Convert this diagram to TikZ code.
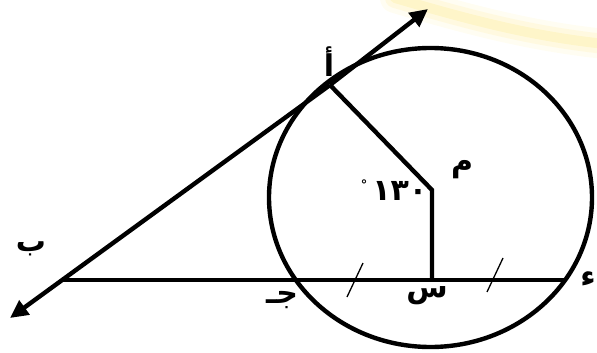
\documentclass[tikz,border=0pt]{standalone}
\usepackage{fontspec}
\newfontfamily\arabicfont[Script=Arabic]{DejaVu Sans}
\TeXXeTstate=1
\usetikzlibrary{arrows.meta}
\begin{document}
\begin{tikzpicture}[x=1pt,y=-1pt,
  geo/.style={line width=4.4pt},
  tick/.style={line width=1.3pt},
  arr/.style={geo,-{Triangle[length=18pt,width=17pt]}},
  lbl/.style={font=\arabicfont\bfseries\fontsize{30}{30}\selectfont,inner sep=0pt}]
\useasboundingbox (0,0) rectangle (597,353);
% faint yellow glow
\draw[yellow!70!orange,line width=30pt,line cap=round,opacity=0.05]
  (395,-2) .. controls (470,20) and (530,36) .. (605,44);
\draw[yellow!70!orange,line width=20pt,line cap=round,opacity=0.08]
  (395,-2) .. controls (470,20) and (530,36) .. (605,44);
\draw[yellow!70!orange,line width=10pt,line cap=round,opacity=0.10]
  (395,-2) .. controls (470,20) and (530,36) .. (605,44);
% points
\coordinate (B) at (62,280);
\coordinate (A) at (330,85);
\coordinate (M) at (432,190);
\coordinate (S) at (432,280);
\coordinate (D) at (566,280);
\coordinate (T1) at (428,9);
\coordinate (T2) at (10,318);
% circle
\draw[geo] (430.5,197.5) ellipse [x radius=161.5, y radius=149.5];
% lines
\draw[arr] (A) -- (T1);
\draw[arr] (A) -- (T2);
\draw[geo] (B) -- (D);
\draw[geo] (A) -- (M) -- (S);
% ticks
\draw[tick] (347,297) -- (363,263);
\draw[tick] (487,292) -- (503,258);
% labels
\node[lbl] (la) at (329,62) {\beginR أ\endR};
\node[lbl] (lb) at (31,249) {\beginR ب\endR};
\node[lbl] (lj) at (282,300) {\beginR جـ\endR};
\node[lbl] (ls) at (427,296) {\beginR س\endR};
\node[lbl] (ld) at (588,279) {\beginR ء\endR};
\node[lbl] (lm) at (462,170) {\beginR م\endR};
\node[lbl,anchor=center] (lang) at (394,190) {\raisebox{11pt}{\fontsize{13}{13}\selectfont\mbox{°}}\,\mbox{١}\mbox{٣}\mbox{٠}};
\end{tikzpicture}
\end{document}
